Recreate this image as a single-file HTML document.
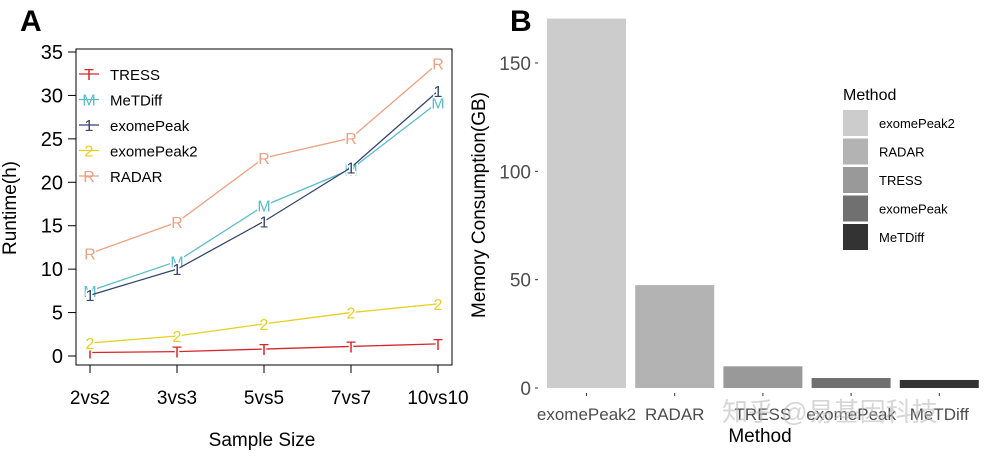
<!DOCTYPE html>
<html><head><meta charset="utf-8"><style>
body{margin:0;background:#fff;width:993px;height:451px;overflow:hidden}
text{font-family:"Liberation Sans","Noto Sans CJK SC",sans-serif}
</style></head><body>
<svg id="svg" width="993" height="451" viewBox="0 0 993 451" xmlns="http://www.w3.org/2000/svg">
<text x="20" y="31" font-size="30" font-weight="bold">A</text>
<text x="510" y="31" font-size="30" font-weight="bold">B</text>
<g id="A"></g>
<g id="B"></g>
</svg>
<script>
const NS="http://www.w3.org/2000/svg";
const categoriesA=["2vs2","3vs3","5vs5","7vs7","10vs10"];
const seriesNames=["TRESS","MeTDiff","exomePeak","exomePeak2","RADAR"];
const seriesSymbols=["T","M","1","2","R"];
const seriesColors=["#d7262b","#5bbccc","#34456e","#e6cf1e","#eea083"];
const tressVals=[0.4,0.5,0.8,1.1,1.4];
const metdiffVals=[7.5,10.9,17.3,21.5,29.2];
const exomePeakVals=[7.0,10.0,15.5,21.7,30.5];
const exomePeak2Vals=[1.5,2.3,3.7,5.0,6.0];
const radarVals=[11.8,15.4,22.8,25.1,33.7];
const yTicksA=[0,5,10,15,20,25,30,35];
const categoriesB=["exomePeak2","RADAR","TRESS","exomePeak","MeTDiff"];
const memVals=[170.5,47.5,10,4.6,3.7];
const barColors=["#cccccc","#b3b3b3","#999999","#707070","#333333"];
const yTicksB=[0,50,100,150];

function el(tag,attrs,parent,txt){const e=document.createElementNS(NS,tag);for(const k in attrs)e.setAttribute(k,attrs[k]);if(txt!==undefined)e.textContent=txt;parent.appendChild(e);return e;}
// Panel A
const A=document.getElementById('A');
const xA=i=>90+i*87, yA=v=>356-v*(304/35);
let r=el('rect',{x:76,y:49,width:376,height:316,fill:'none',stroke:'#000','stroke-width':1},A);

yTicksA.forEach(t=>{const g=el('g',{},A);

el('line',{x1:68,x2:76,y1:yA(t),y2:yA(t),stroke:'#000'},g);
el('text',{x:63,y:yA(t)+7,'font-size':20,'text-anchor':'end'},g,t);});
categoriesA.forEach((c,i)=>{const g=el('g',{},A);

el('line',{x1:xA(i),x2:xA(i),y1:365,y2:373,stroke:'#000'},g);
el('text',{x:xA(i),y:404,'font-size':19,'text-anchor':'middle'},g,c);});
let t=el('text',{x:262,y:446,'font-size':19,'text-anchor':'middle'},A,'Sample Size');

t=el('text',{x:0,y:0,'font-size':19,'text-anchor':'middle',transform:'translate(16,208) rotate(-90)'},A,'Runtime(h)');

const allVals=[tressVals,metdiffVals,exomePeakVals,exomePeak2Vals,radarVals];
allVals.forEach((vals,s)=>{const g=el('g',{},A);

el('polyline',{points:vals.map((v,i)=>xA(i)+','+yA(v)).join(' '),fill:'none',stroke:seriesColors[s],'stroke-width':1.3},g);
vals.forEach((v,i)=>{const p=el('text',{x:xA(i),y:yA(v)+6,'font-size':16,fill:seriesColors[s],'text-anchor':'middle',stroke:'#fff','stroke-width':3,'paint-order':'stroke'},g,seriesSymbols[s]);
});
const ly=74+s*25.5;const lg=el('g',{},A);

el('line',{x1:79,x2:99,y1:ly,y2:ly,stroke:seriesColors[s],'stroke-width':1.3},lg);
el('text',{x:89,y:ly+6,'font-size':16,fill:seriesColors[s],'text-anchor':'middle'},lg,seriesSymbols[s]);
el('text',{x:110,y:ly+6,'font-size':15},lg,seriesNames[s]);});
// Panel B
const B=document.getElementById('B');
const yB=v=>388-v*(325/150), bx=i=>547+i*88.2;
yTicksB.forEach(tk=>{const g=el('g',{},B);

el('line',{x1:535,x2:538,y1:yB(tk),y2:yB(tk),stroke:'#333'},g);
el('text',{x:531,y:yB(tk)+7,'font-size':19,fill:'#4d4d4d','text-anchor':'end'},g,tk);});
memVals.forEach((v,i)=>{const b=el('rect',{x:bx(i),y:yB(v),width:79,height:388-yB(v),fill:barColors[i]},B);

const g=el('g',{},B);

el('line',{x1:bx(i)+39.5,x2:bx(i)+39.5,y1:393,y2:396,stroke:'#333'},g);
el('text',{x:bx(i)+39.5,y:420,'font-size':17,fill:'#4d4d4d','text-anchor':'middle'},g,categoriesB[i]);
const ly=110+i*28.5;const lg=el('g',{},B);

el('rect',{x:843,y:ly,width:25,height:26,fill:barColors[i]},lg);
el('text',{x:879,y:ly+18,'font-size':13},lg,categoriesB[i]);});
t=el('text',{x:843,y:100,'font-size':16},B,'Method');

t=el('text',{x:760,y:442,'font-size':19,'text-anchor':'middle'},B,'Method');

t=el('text',{x:0,y:0,'font-size':19,'text-anchor':'middle',transform:'translate(485,205) rotate(-90)'},B,'Memory Consumption(GB)');

t=el('text',{x:722,y:421,'font-size':26,fill:'#bbb','fill-opacity':0.6},B,'知乎 @易基因科技');

</script>
</body></html>
